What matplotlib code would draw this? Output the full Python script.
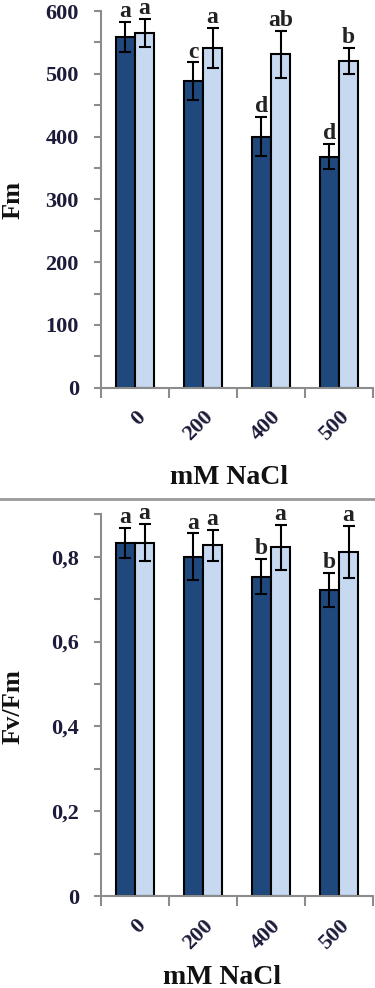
import matplotlib.pyplot as plt
import numpy as np
from matplotlib.lines import Line2D

plt.rcParams['font.family'] = ['Liberation Serif', 'DejaVu Serif']
plt.rcParams['font.weight'] = 'bold'

# datos
dosis = ['0', '200', '400', '500']

fm_oscuro = [558, 488, 400, 368]
fm_oscuro_err = [24, 30, 31, 20]
fm_claro = [565, 541, 531, 520]
fm_claro_err = [22, 32, 37, 21]
fm_letras_oscuro = ['a', 'c', 'd', 'd']
fm_letras_claro = ['a', 'a', 'ab', 'b']

fvfm_oscuro = [0.833, 0.800, 0.753, 0.722]
fvfm_oscuro_err = [0.035, 0.055, 0.042, 0.040]
fvfm_claro = [0.833, 0.827, 0.822, 0.811]
fvfm_claro_err = [0.044, 0.037, 0.053, 0.061]
fvfm_letras_oscuro = ['a', 'a', 'b', 'b']
fvfm_letras_claro = ['a', 'a', 'a', 'a']

W, H = 375, 988
fig = plt.figure(figsize=(W / 100, H / 100), dpi=100)

col_oscuro = '#1F497D'
col_claro = '#C6D9F1'
col_texto = '#1c1c3a'
col_eje = '#8c8c8c'
ancho = 0.28


def panel(ax, oscuro, oscuro_err, claro, claro_err, let_o, let_c, ylim, mayor, menor, fmt):
    x = np.arange(len(dosis))
    ax.bar(x - ancho / 2, oscuro, ancho, color=col_oscuro, edgecolor='black', linewidth=1.5,
           yerr=oscuro_err, capsize=4, error_kw=dict(elinewidth=1.5, capthick=1.5, ecolor='black'))
    ax.bar(x + ancho / 2, claro, ancho, color=col_claro, edgecolor='black', linewidth=1.5,
           yerr=claro_err, capsize=4, error_kw=dict(elinewidth=1.5, capthick=1.5, ecolor='black'))
    # letras de significancia
    for i in range(len(dosis)):
        ax.annotate(let_o[i], (x[i] - ancho / 2, oscuro[i] + oscuro_err[i]), xytext=(0, 3.5),
                    textcoords='offset points', ha='center', va='baseline',
                    fontsize=17, color='#222222', annotation_clip=False)
        ax.annotate(let_c[i], (x[i] + ancho / 2, claro[i] + claro_err[i]), xytext=(0, 3.5),
                    textcoords='offset points', ha='center', va='baseline',
                    fontsize=17, color='#222222', annotation_clip=False)
    ax.set_xlim(-0.5, len(dosis) - 0.5)
    ax.set_ylim(*ylim)
    ax.set_yticks(mayor)
    ax.set_yticks(menor, minor=True)
    ax.set_yticklabels([fmt(v) for v in mayor], fontsize=16, color=col_texto, fontweight='bold')
    ax.set_xticks(np.arange(-0.5, len(dosis)))
    ax.set_xticklabels([])
    ax.set_xticks(x, minor=True)
    ax.set_xticklabels(dosis, minor=True, rotation=45, ha='right', rotation_mode='anchor',
                       fontsize=16, color=col_texto, fontweight='bold')
    ax.tick_params(axis='x', which='major', length=7, width=1.5, color=col_eje, direction='out')
    ax.tick_params(axis='x', which='minor', length=0, pad=14)
    ax.tick_params(axis='y', which='both', length=5, width=1.5, color=col_eje, direction='out', pad=11)
    for s in ['top', 'right']:
        ax.spines[s].set_visible(False)
    for s in ['left', 'bottom']:
        ax.spines[s].set_color(col_eje)
        ax.spines[s].set_linewidth(1.5)


def caja(x0, x1, ytop, ybot):
    return [x0 / W, 1 - ybot / H, (x1 - x0) / W, (ybot - ytop) / H]


ax1 = fig.add_axes(caja(101, 373, 11, 387.7))
panel(ax1, fm_oscuro, fm_oscuro_err, fm_claro, fm_claro_err, fm_letras_oscuro, fm_letras_claro,
      (0, 600), np.arange(0, 601, 100), np.arange(50, 600, 100), lambda v: '%d' % v)

ax2 = fig.add_axes(caja(101, 373, 514.3, 896))
panel(ax2, fvfm_oscuro, fvfm_oscuro_err, fvfm_claro, fvfm_claro_err, fvfm_letras_oscuro,
      fvfm_letras_claro, (0, 0.9), [0, 0.2, 0.4, 0.6, 0.8], [0.1, 0.3, 0.5, 0.7, 0.9],
      lambda v: '0' if v == 0 else ('%.1f' % v).replace('.', ','))

fig.text(13 / W, 1 - 200 / H, 'Fm', rotation=90, ha='center', va='center', fontsize=19, color='#111111')
fig.text(229 / W, 1 - 477 / H, 'mM NaCl', ha='center', va='center', fontsize=20, color='#111111')
fig.text(13 / W, 1 - 707 / H, 'Fv/Fm', rotation=90, ha='center', va='center', fontsize=19, color='#111111')
fig.text(222 / W, 1 - 977 / H, 'mM NaCl', ha='center', va='center', fontsize=20, color='#111111')

# linea separadora entre paneles
fig.add_artist(Line2D([0, 1], [1 - 499 / H, 1 - 499 / H], color='#999999', linewidth=2))

fig.savefig('out.png', dpi=100)
